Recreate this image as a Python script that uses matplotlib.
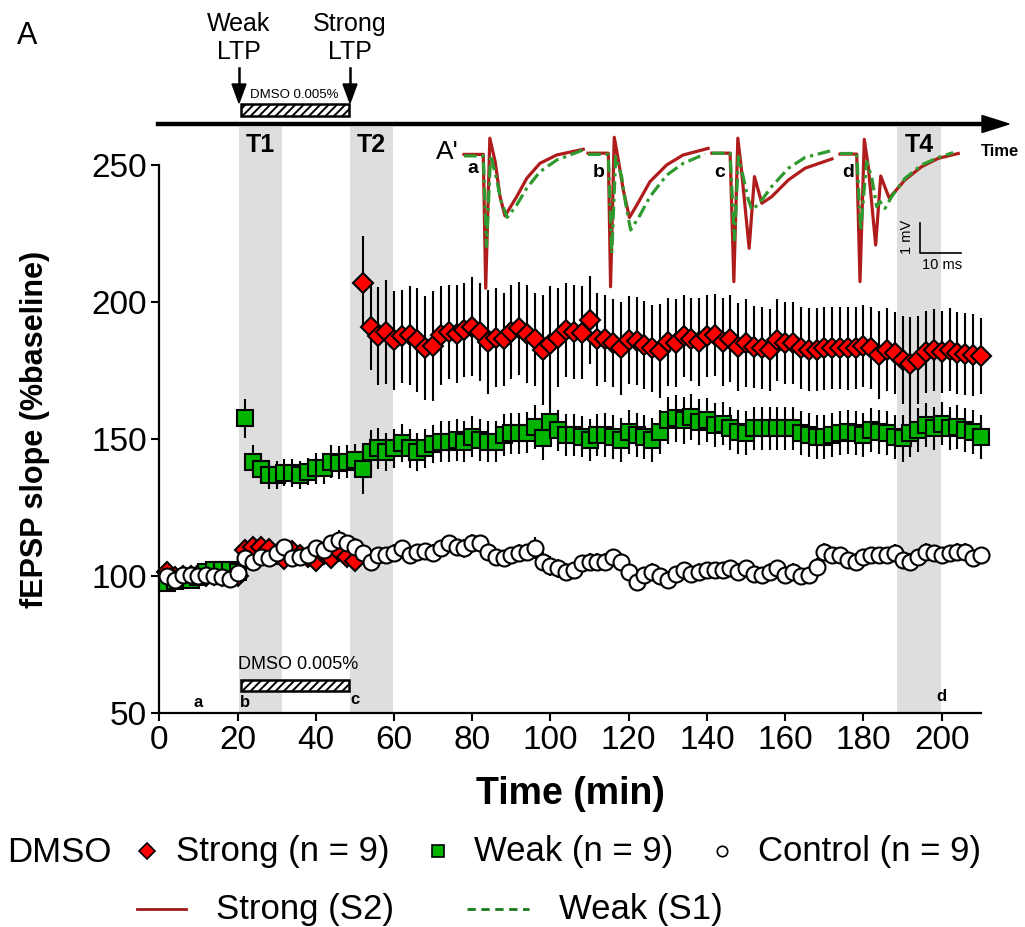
import numpy as np
import matplotlib
matplotlib.use("Agg")
import matplotlib.pyplot as plt
from matplotlib.patches import Rectangle, Polygon

plt.rcParams['font.family'] = ['Liberation Sans', 'DejaVu Sans']
plt.rcParams['hatch.linewidth'] = 1.4

# recording times (min), one sample every 2 min
time = np.arange(2, 211, 2)

# fEPSP slope, % of baseline (mean and SEM)
strong = [101.5, 99.5, 100, 100, 100.5, 100, 100.5, 100, 100.5, 100,
          109.5, 110.5, 110.5, 110, 108, 106, 109, 107.5, 107, 105.5,
          108, 106.5, 109, 107, 105.5,
          207, 191, 187.5, 189, 186, 187.5, 187.8, 186, 183.3, 183.8,
          187.8, 189, 188.3, 189.7, 190.9, 189, 185.4, 186.9, 186.3, 189,
          190.3, 188.3, 186.3, 182.4, 184.8, 186.9, 189.7, 189, 188.7, 193.5,
          186.3,
          186.6, 184.9, 183, 186.2, 185.6, 184.2, 183, 182.1, 185.4, 184.9,
          187.5, 186.3, 185.4, 187.5, 187.8, 185.4, 186.6, 183.6, 184.9, 183.6,
          183.2, 182.4, 186, 184.9, 184.9, 183.3, 182.6, 182.6, 183, 183.3,
          183.3, 183, 183.3, 183.8, 183.3, 180.5, 182.6, 181.4, 178.7, 177.5,
          178.8, 181.7, 182.4, 181.7, 182.6, 181.4, 181, 180.5, 180.2]
strong_sem = [1.5, 1.2, 1.0, 1.2, 1.0, 1.2, 1.0, 1.2, 1.0, 1.2,
              3.5, 3, 3, 3, 2.5, 3, 3, 3, 3, 3.5, 3, 3.5, 3.5, 3, 3,
              17, 16, 18, 19, 18, 17, 18, 19, 19, 20,
              18, 17, 18, 17, 18, 18, 19, 18, 17, 17,
              17, 18, 17, 20, 21, 18, 17, 17, 17, 16,
              17,
              16, 16, 17, 16, 16, 16, 16, 17, 16, 16,
              15, 15, 16, 15, 15, 16, 16, 16, 16, 15,
              15, 15, 15, 15, 15, 15, 15, 15, 15, 15,
              15, 15, 15, 15, 15, 16, 15, 15, 16, 17,
              16, 15, 15, 15, 15, 15, 15, 15, 14]

weak = [97.5, 98, 99, 98.5, 99.5, 101.5, 102, 102, 102, 101.5,
        157.5, 141.7, 138.9, 136.8, 136.8, 137.7, 137.5, 136.8, 138, 139.2,
        139.2, 141.7, 141.3, 141.7, 142.3, 138.9, 145.3, 146.5, 145.3, 146.5,
        148.4, 146.5, 145.3, 146.5, 148.2, 148.9, 148.9, 149.6, 148.9, 150.8,
        149.6, 148.9, 148.9, 151.4, 152, 152, 152.3, 154.4, 150.2, 156.2,
        153.2, 151.4, 151.4, 150.8, 149.6, 151.4,
        151.4, 150.8, 149.6, 152.6, 151.4, 150.8, 149.6, 152.6, 156.8, 157.5,
        156.8, 158, 156.2, 156.8, 155, 155.6, 153.8, 152.6, 152, 153.8,
        153.8, 153.8, 153.8, 153.8, 153.8, 152, 151.4, 150.8, 150.8, 151.4,
        152, 152.6, 152, 151.4, 153.2, 152.6, 152, 150.8, 150.2, 152,
        153.2, 155, 153.8, 155.6, 153.8, 154.4, 153.2, 152.6, 150.8]
weak_sem = [1.5, 1.5, 1.2, 1.2, 1.2, 1.5, 1.5, 1.2, 1.2, 1.2,
            7, 6, 5, 5, 5, 5, 5, 5, 5, 5.5, 5.5, 6, 6, 6, 6,
            9, 8, 7.5, 7, 7, 7, 7, 7, 7, 7,
            7.5, 7.5, 7.5, 7.5, 7.5, 7.5, 7.5, 7.5, 7.5, 7.5,
            7.5, 7.5, 8, 8, 8.5, 7.5, 7.5, 7.5, 7.5, 7.5,
            7.5,
            8, 8, 8, 8, 8, 8, 8, 8, 8.5, 8.5,
            8.5, 8.5, 8.5, 8, 8, 8, 8, 8, 8, 8,
            8, 8, 8, 8, 8, 8, 8, 8, 8, 8,
            8, 8, 8, 8, 8, 8, 8, 8, 8.5, 8.5,
            8, 8, 8, 8, 8, 8, 8, 8, 8]

control = [100, 98.5, 100.4, 100.4, 100, 100.4, 100, 99.6, 98.9, 101,
           106.4, 105.2, 107, 106.4, 108.3, 110.5, 106.4, 107, 107.6, 110.1,
           109.5, 111.9, 113.1, 111.9, 110.7, 108.3, 104.9, 107.6, 107.6, 108.5,
           110.1, 107.6, 108.8, 109.1, 108.5, 110.1, 111.9, 110.5, 110.1, 111.9,
           111.9, 108.8, 107, 106.4, 107.6, 108.5, 108.8, 110.1, 105.2, 103.6,
           102.8, 101.6, 102.2, 104.7, 105.2, 105.2,
           105.2, 107, 105.2, 101.6, 97.9, 100.4, 101.6, 99.8, 98.5, 100.8,
           102.2, 100.8, 101.6, 102.2, 102.2, 102.2, 102.8, 101.6, 102.8, 100.8,
           100.4, 101.6, 102.8, 100.4, 101.6, 99.8, 100.4, 103.4, 108.9, 107.7,
           107.7, 105.8, 105.2, 107, 107.7, 107.7, 107.7, 108.5, 105.8, 105.2,
           107, 108.9, 108.3, 107.7, 108.3, 108.9, 108.9, 106.4, 107.7]
control_sem = [1.5, 1.5, 1.5, 1.5, 1.5, 1.5, 1.5, 1.5, 1.5, 1.5,
               2.5, 3, 3, 3, 3, 3, 3, 3, 3, 3,
               3, 3, 3.5, 3, 3, 3, 3, 3, 3, 3,
               3, 3, 3, 3, 3, 3, 3, 3, 3.5, 3.5,
               3, 3, 3, 3, 3, 3, 3, 4, 3.5, 3.5,
               3.5, 3, 3, 3, 3, 3,
               3, 3, 3, 3.5, 3.5, 3, 3, 3, 3, 3,
               3, 3, 3, 3, 3, 3, 3, 3, 3, 3,
               3, 3, 3, 3, 3, 3, 3, 3, 3, 3,
               3, 3, 3, 3, 3, 3, 3, 3, 3, 3,
               3, 3, 3, 3, 3, 3, 3, 3, 3]

# shaded analysis windows (min)
windows = [(20.5, 31.3, 'T1'), (48.8, 59.7, 'T2'), (188.5, 199.8, 'T4')]

# sample sweeps (ms from sweep start, mV relative to pre-stimulus baseline)
sweep_labels = ['a', 'b', 'c', 'd']
sweep_start = [5.85, 36.1, 66.3, 97.56]
s2_t = [[0, 4.7, 5.3, 6.3, 7.6, 8.8, 10.0, 12.85, 15.3, 18.5, 22.6, 29.1],
        [0, 4.95, 5.5, 6.4, 7.4, 8.6, 10.1, 11.9, 15.1, 19.2, 23.2, 29.3],
        [0, 4.46, 5.37, 6.34, 7.15, 9.1, 10.4, 12.2, 14.6, 18.7, 22.75, 29.3],
        [0, 4.07, 4.88, 5.93, 6.9, 8.7, 9.93, 12.0, 15.85, 19.9, 24.0, 28.85]]
s2_v = [[-0.03, -0.03, -4.49, 0.51, -0.27, -1.44, -2.08, -1.44, -0.83, -0.33, -0.05, 0.14],
        [0.01, 0.01, -4.44, 0.54, -0.22, -1.22, -2.13, -1.72, -0.94, -0.38, -0.05, 0.17],
        [0.01, 0.01, -4.27, 0.51, -0.44, -3.16, -0.77, -1.66, -1.44, -0.88, -0.49, -0.18],
        [-0.02, -0.02, -4.27, 0.47, -0.44, -3.05, -0.75, -1.49, -0.88, -0.44, -0.16, 0]]
s1_t = [[0, 4.7, 5.5, 6.5, 8.0, 8.95, 10.55, 12.85, 15.3, 18.5, 22.6, 29.1],
        [0, 4.95, 5.8, 6.75, 8.2, 9.3, 10.4, 12.7, 15.1, 19.2, 23.2, 28.5],
        [0, 4.46, 5.5, 6.5, 7.46, 8.8, 9.76, 10.7, 12.2, 14.6, 18.7, 22.75, 29.3],
        [0, 4.07, 5.05, 6.5, 7.7, 8.95, 9.76, 10.98, 12.6, 15.85, 19.9, 24.0, 27.6]]
s1_v = [[-0.08, -0.08, -3.1, -0.05, -0.88, -1.55, -2.13, -1.72, -1.16, -0.61, -0.22, 0.12],
        [-0.03, -0.03, -3.33, -0.1, -0.77, -1.77, -2.55, -2.05, -1.44, -0.72, -0.33, -0.02],
        [0.01, 0.01, -2.88, -0.1, -0.66, -1.49, -1.88, -1.77, -1.55, -1.1, -0.49, -0.13, 0.1],
        [0, 0, -2.55, -0.27, -0.77, -1.77, -1.6, -1.83, -1.44, -0.83, -0.38, -0.13, 0.03]]

red = '#ff0000'
green = '#00b400'
trace_red = '#b01c1c'
trace_green = '#2f9a2f'

fig = plt.figure(figsize=(10.25, 9.27), dpi=100)
ax = fig.add_axes([0.1554, 0.2309, 0.8015, 0.5913])
ax.set_xlim(0, 210)
ax.set_ylim(50, 250)

for x0, x1, lab in windows:
    ax.axvspan(x0, x1, ymin=0, ymax=1.069, color='#dedede', lw=0, zorder=0, clip_on=False)
    ax.text((x0 + x1) / 2, 1.036, lab, transform=ax.get_xaxis_transform(),
            ha='center', va='center', fontsize=18, fontweight='bold', clip_on=False)

for y, e, mk, ms, fc in [(strong, strong_sem, 'D', 10.5, red),
                         (weak, weak_sem, 's', 11, green),
                         (control, control_sem, 'o', 11.5, 'white')]:
    cont = ax.errorbar(time, y, yerr=e, fmt=mk, ms=ms, mfc=fc, mec='black', mew=1.5,
                       ecolor='black', elinewidth=1.5, capsize=0)
    for art in cont.get_children():
        art.set_clip_on(False)

# drug application bar
ax.add_patch(Rectangle((21, 58.1), 27.5, 4.1, facecolor='white', edgecolor='black',
                       lw=1.8, hatch='////', zorder=3))
ax.text(20, 67.6, 'DMSO 0.005%', fontsize=13, ha='left', va='center')
for lab, x, y in zip(sweep_labels, [10, 22, 50, 200], [53.7, 53.7, 54.8, 55.9]):
    ax.text(x, y, lab, fontsize=12, fontweight='bold', ha='center', va='center')

ax.set_xticks(range(0, 201, 20))
ax.set_yticks(range(50, 251, 50))
ax.tick_params(direction='out', length=6, width=1.5, labelsize=24, pad=3)
for s in ['top', 'right']:
    ax.spines[s].set_visible(False)
for s in ['left', 'bottom']:
    ax.spines[s].set_linewidth(1.6)
ax.set_xlabel('Time (min)', fontsize=27, fontweight='bold', va='center')
ax.xaxis.set_label_coords(0.5, -0.147)
ax.set_ylabel('fEPSP slope (%baseline)', fontsize=22, fontweight='bold', va='center')
ax.yaxis.set_label_coords(-0.151, 0.518)

# example sweeps
ins = fig.add_axes([440 / 1025, 1 - 300 / 927, 550 / 1025, 170 / 927])
ins.set_xlim(0, 550 / 4.1)
ins.set_ylim(-4.883, 0.783)
ins.axis('off')
for k in range(4):
    ins.plot(sweep_start[k] + np.array(s2_t[k]), s2_v[k], color=trace_red, lw=2.3,
             solid_joinstyle='round')
    ins.plot(sweep_start[k] + np.array(s1_t[k]), s1_v[k], color=trace_green, lw=2.3,
             ls=(0, (4, 1.5, 1, 1.5)))
ins.text(8.1, -0.49, 'a', fontsize=14, fontweight='bold', ha='center', va='center')
ins.text(38.8, -0.64, 'b', fontsize=14, fontweight='bold', ha='center', va='center')
ins.text(68.3, -0.64, 'c', fontsize=14, fontweight='bold', ha='center', va='center')
ins.text(99.6, -0.64, 'd', fontsize=14, fontweight='bold', ha='center', va='center')
# scale bar: 10 ms, 1 mV
ins.plot([117.07, 117.07, 127.07], [-2.31, -3.31, -3.31], color='black', lw=1.2)
ins.text(113.8, -2.77, '1 mV', rotation=90, ha='center', va='center', fontsize=10.5)
ins.text(122.4, -3.72, '10 ms', ha='center', va='center', fontsize=10.5)

# annotations in pixel space
ov = fig.add_axes([0, 0, 1, 1])
ov.set_xlim(0, 1025)
ov.set_ylim(927, 0)
ov.axis('off')
ov.patch.set_visible(False)

ov.text(27, 36, 'A', fontsize=22, ha='center', va='center')
ov.text(447, 152, "A'", fontsize=19, ha='center', va='center')

# time arrow
ov.plot([158, 986], [124, 124], color='black', lw=3.2)
ov.add_patch(Polygon([(982, 115.5), (982, 132.5), (1009, 124)], closed=True, color='black'))
ov.text(1000, 151, 'Time', fontsize=12, fontweight='bold', ha='center', va='center')

# induction arrows
for x, lab in [(239, 'Weak\nLTP'), (350, 'Strong\nLTP')]:
    ov.text(x, 38, lab, fontsize=18, ha='center', va='center', linespacing=1.25)
    ov.plot([x, x], [68, 86], color='black', lw=1.8)
    ov.add_patch(Polygon([(x - 7, 84), (x + 7, 84), (x, 103)], closed=True, color='black'))
ov.add_patch(Rectangle((241, 104), 108, 12, facecolor='white', edgecolor='black',
                       lw=1.8, hatch='////'))
ov.text(294, 95, 'DMSO 0.005%', fontsize=9.5, ha='center', va='center')

# legend
ov.text(7, 852, 'DMSO', fontsize=25, ha='left', va='center')
ov.plot(147, 851, marker='D', ms=8, mfc=red, mec='black', mew=1.2)
ov.text(176, 852, 'Strong (n = 9)', fontsize=25, ha='left', va='center')
ov.plot(438, 851, marker='s', ms=8, mfc=green, mec='black', mew=1.2)
ov.text(474, 852, 'Weak (n = 9)', fontsize=25, ha='left', va='center')
ov.plot(722, 851, marker='o', ms=7.5, mfc='white', mec='black', mew=1.2)
ov.text(758, 852, 'Control (n = 9)', fontsize=25, ha='left', va='center')
ov.plot([137, 186], [909, 909], color='#a01818', lw=2)
ov.text(216, 910, 'Strong (S2)', fontsize=25, ha='left', va='center')
ov.plot([467, 529], [909, 909], color='#1a7a1a', lw=2, ls=(0, (3, 2)))
ov.text(559, 910, 'Weak (S1)', fontsize=25, ha='left', va='center')

fig.savefig('out.png', dpi=100)
